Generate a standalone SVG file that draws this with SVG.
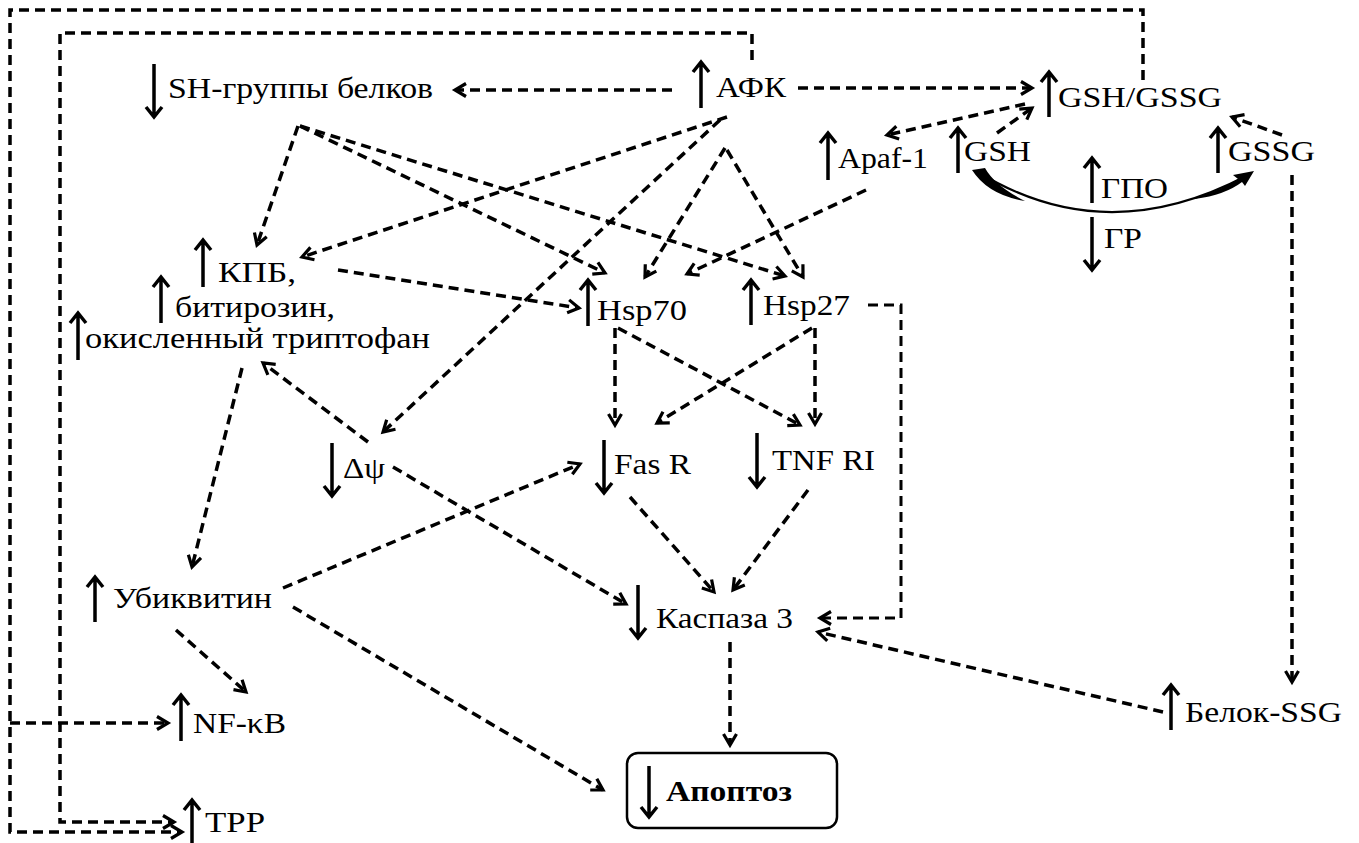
<svg xmlns="http://www.w3.org/2000/svg" width="1359" height="843" viewBox="0 0 1359 843">
<style>
.t{font-family:"Liberation Serif","Times New Roman",serif;font-size:30px;fill:#000}
.b{font-weight:bold}
.c{fill:none;stroke:#000;stroke-width:3.5;stroke-dasharray:10 6;marker-end:url(#ah)}
.s{fill:none;stroke:#000;stroke-width:3.5;stroke-linecap:butt}
</style>
<defs>
<marker id="ah" markerUnits="userSpaceOnUse" markerWidth="16" markerHeight="16" refX="13" refY="8" orient="auto" overflow="visible">
<path d="M2,1.5 L13,8 L2,14.5" fill="none" stroke="#000" stroke-width="3.2" stroke-dasharray="none"/>
</marker>
</defs>
<rect width="1359" height="843" fill="#fff"/>
<g id="connectors">
<path class="c" d="M1143,80 V10 H10 V832 H182"/>
<path class="c" d="M10,723 H168"/>
<path class="c" d="M752,60 V33 H60 V822 H174"/>
<path class="c" d="M672,90 H455"/>
<path class="c" d="M798,88 H1032"/>
<path class="c" d="M1025,104 L887,135"/>
<path class="c" d="M997,133 L1032,108"/>
<path class="c" d="M1282,135 L1232,117"/>
<path class="c" d="M1292,175 V682"/>
<path class="c" d="M1163,712 L818,632"/>
<path class="c" style="stroke-width:3" d="M868,305 H901 V618 H820"/>
<path class="c" d="M298,126 L257,245"/>
<path class="c" d="M300,126 L605,273"/>
<path class="c" d="M300,126 L785,276"/>
<path class="c" d="M727,117 L302,257"/>
<path class="c" d="M720,120 L383,432"/>
<path class="c" d="M725,148 L645,277"/>
<path class="c" d="M727,150 L803,277"/>
<path class="c" d="M866,190 L687,274"/>
<path class="c" d="M338,270 L579,308"/>
<path class="c" d="M368,442 L263,363"/>
<path class="c" d="M242,368 L192,567"/>
<path class="c" d="M615,328 V425"/>
<path class="c" d="M618,328 L800,425"/>
<path class="c" d="M815,328 V424"/>
<path class="c" d="M812,328 L657,423"/>
<path class="c" d="M630,497 L714,592"/>
<path class="c" d="M808,490 L733,590"/>
<path class="c" d="M393,467 L626,604"/>
<path class="c" d="M283,588 L580,464"/>
<path class="c" d="M293,607 L603,790"/>
<path class="c" d="M176,630 L246,692"/>
<path class="c" d="M730,642 V745"/>
<g id="gpo-reaction">
<path d="M978,172 Q1105,250 1246,176" fill="none" stroke="#000" stroke-width="2.2"/>
<path d="M972,170 L985,168 Q995,186 1025,201 Q988,195 972,170 Z" fill="#000"/>
<path d="M1195,198 Q1222,190 1238,179 L1233,175 L1254,171 L1245,186 L1242,182 Q1225,195 1195,199 Z" fill="#000"/>
</g>
</g>
<g id="sh"><path class="s" d="M154,64 V117 M146,107 L154,117 L162,107"/><text class="t" x="168" y="98" textLength="265" lengthAdjust="spacingAndGlyphs">SH-группы белков</text></g>
<g id="afk"><path class="s" d="M701,108 V62 M693,72 L701,62 L709,72"/><text class="t" x="716" y="97" textLength="70" lengthAdjust="spacingAndGlyphs">АФК</text></g>
<g id="gshgssg"><path class="s" d="M1049,117 V72 M1041,82 L1049,72 L1057,82"/><text class="t" x="1058" y="107" textLength="164" lengthAdjust="spacingAndGlyphs">GSH/GSSG</text></g>
<g id="apaf"><path class="s" d="M828,180 V133 M820,143 L828,133 L836,143"/><text class="t" x="838" y="168" textLength="90" lengthAdjust="spacingAndGlyphs">Apaf-1</text></g>
<g id="gsh"><path class="s" d="M958,173 V128 M950,138 L958,128 L966,138"/><text class="t" x="964" y="161" textLength="67" lengthAdjust="spacingAndGlyphs">GSH</text></g>
<g id="gssg"><path class="s" d="M1218,173 V128 M1210,138 L1218,128 L1226,138"/><text class="t" x="1228" y="161" textLength="87" lengthAdjust="spacingAndGlyphs">GSSG</text></g>
<g id="gpo"><path class="s" d="M1092,203 V158 M1084,168 L1092,158 L1100,168"/><text class="t" x="1101" y="198" textLength="67" lengthAdjust="spacingAndGlyphs">ГПО</text></g>
<g id="gr"><path class="s" d="M1092,217 V270 M1084,260 L1092,270 L1100,260"/><text class="t" x="1104" y="248" textLength="38" lengthAdjust="spacingAndGlyphs">ГР</text></g>
<g id="kpb">
<path class="s" d="M203,287 V240 M195,250 L203,240 L211,250"/><text class="t" x="218" y="282" textLength="78" lengthAdjust="spacingAndGlyphs">КПБ,</text>
<path class="s" d="M161,323 V277 M153,287 L161,277 L169,287"/><text class="t" x="175" y="317" textLength="160" lengthAdjust="spacingAndGlyphs">битирозин,</text>
<path class="s" d="M78,360 V313 M70,323 L78,313 L86,323"/><text class="t" x="85" y="348" textLength="345" lengthAdjust="spacingAndGlyphs">окисленный триптофан</text>
</g>
<g id="hsp70"><path class="s" d="M588,326 V280 M580,290 L588,280 L596,290"/><text class="t" x="597" y="320" textLength="90" lengthAdjust="spacingAndGlyphs">Hsp70</text></g>
<g id="hsp27"><path class="s" d="M751,325 V280 M743,290 L751,280 L759,290"/><text class="t" x="763" y="315" textLength="87" lengthAdjust="spacingAndGlyphs">Hsp27</text></g>
<g id="fasr"><path class="s" d="M604,440 V493 M596,483 L604,493 L612,483"/><text class="t" x="614" y="474" textLength="77" lengthAdjust="spacingAndGlyphs">Fas R</text></g>
<g id="tnfri"><path class="s" d="M757,433 V487 M749,477 L757,487 L765,477"/><text class="t" x="772" y="470" textLength="103" lengthAdjust="spacingAndGlyphs">TNF RI</text></g>
<g id="dpsi"><path class="s" d="M332,443 V496 M324,486 L332,496 L340,486"/><text class="t" x="343" y="478" textLength="42" lengthAdjust="spacingAndGlyphs">Δψ</text></g>
<g id="casp3"><path class="s" d="M638,585 V638 M630,628 L638,638 L646,628"/><text class="t" x="656" y="628" textLength="137" lengthAdjust="spacingAndGlyphs">Каспаза 3</text></g>
<g id="apoptosis"><rect x="627" y="753" width="210" height="75" rx="11" fill="none" stroke="#000" stroke-width="2.5"/><path class="s" d="M649,766 V817 M641,807 L649,817 L657,807"/><text class="t b" x="666" y="801" textLength="126" lengthAdjust="spacingAndGlyphs">Апоптоз</text></g>
<g id="ubiq"><path class="s" d="M95,622 V577 M87,587 L95,577 L103,587"/><text class="t" x="113" y="608" textLength="159" lengthAdjust="spacingAndGlyphs">Убиквитин</text></g>
<g id="nfkb"><path class="s" d="M181,741 V695 M173,705 L181,695 L189,705"/><text class="t" x="193" y="733" textLength="93" lengthAdjust="spacingAndGlyphs">NF-κB</text></g>
<g id="tpp"><path class="s" d="M192,845 V800 M184,810 L192,800 L200,810"/><text class="t" x="205" y="832" textLength="60" lengthAdjust="spacingAndGlyphs">TPP</text></g>
<g id="belokssg"><path class="s" d="M1171,730 V685 M1163,695 L1171,685 L1179,695"/><text class="t" x="1185" y="722" textLength="157" lengthAdjust="spacingAndGlyphs">Белок-SSG</text></g>
</svg>
